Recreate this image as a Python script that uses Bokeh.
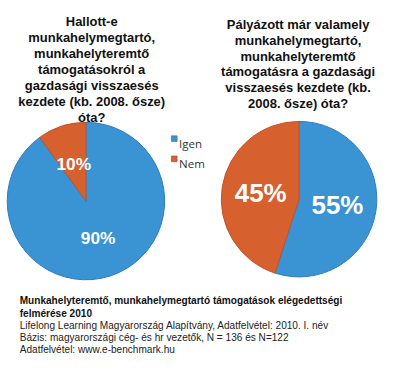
import math
from bokeh.plotting import figure
from bokeh.models import Range1d, ColumnDataSource
from bokeh.core.properties import value
from bokeh.embed import file_html
from bokeh.resources import INLINE

# ---- data ----
categories = ["Igen", "Nem"]
pie1_values = [90, 10]
pie2_values = [55, 45]
colors = ["#3a93d2", "#d6602e"]
outline_colors = ["#2f7dbd", "#c9502a"]

title1 = ["Hallott-e", "munkahelymegtartó,", "munkahelyteremtő",
          "támogatásokról a", "gazdasági visszaesés",
          "kezdete (kb. 2008. ősze)", "óta?"]
title2 = ["Pályázott már valamely", "munkahelymegtartó,", "munkahelyteremtő",
          "támogatásra a gazdasági", "visszaesés kezdete (kb.",
          "2008. ősze) óta?"]
footer_bold = ["Munkahelyteremtő, munkahelymegtartó támogatások elégedettségi",
               "felmérése 2010"]
footer_normal = ["Lifelong Learning Magyarország Alapítvány, Adatfelvétel: 2010. I. név",
                 "Bázis:  magyarországi cég-  és hr vezetők,  N = 136 és N=122",
                 "Adatfelvétel: www.e-benchmark.hu"]

W, H = 400, 372
S = 0.96  # figure is drawn at 96% so that it fits inside the window
p = figure(width=384, height=357, output_backend="svg", toolbar_location=None,
           x_range=Range1d(0, W), y_range=Range1d(0, H),
           min_border=0, outline_line_color=None)
p.axis.visible = False
p.grid.visible = False
p.background_fill_color = "white"
p.border_fill_color = "white"

FONT = value("Liberation Sans")
LFONT = value("Open Sans")


def px(v):
    return f"{v * S:.2f}px"


def draw_pie(cx, cy_img, r, vals, label_size):
    cy = H - cy_img
    total = sum(vals)
    # Nem slice starts at 12 o'clock going counter-clockwise, Igen fills the rest
    nem = vals[1] / total * 2 * math.pi
    top = math.pi / 2
    starts = [top + nem, top]
    ends = [top + 2 * math.pi, top + nem]
    src = ColumnDataSource(dict(x=[cx, cx], y=[cy, cy], s=starts, e=ends,
                                c=colors, lc=outline_colors))
    p.wedge(x="x", y="y", radius=r, start_angle="s", end_angle="e",
            fill_color="c", line_color="lc", line_width=1, source=src)
    lx, ly, lt = [], [], []
    for v, s, e in zip(vals, starts, ends):
        m = (s + e) / 2
        lx.append(cx + 0.5 * r * math.cos(m))
        ly.append(cy + 0.5 * r * math.sin(m))
        lt.append(f"{v}%")
    lsrc = ColumnDataSource(dict(x=lx, y=ly, t=lt))
    p.text(x="x", y="y", text="t", source=lsrc, text_font=FONT,
           text_font_style="bold", text_font_size=px(label_size),
           text_color="white", text_align="center", text_baseline="middle")


draw_pie(89, 209, 82, pie1_values, 18)
draw_pie(311, 207, 81, pie2_values, 27)


def draw_lines(lines, x, y0, dy, size, style, align, color="#111111"):
    src = ColumnDataSource(dict(x=[x] * len(lines),
                                y=[H - (y0 + i * dy) for i in range(len(lines))],
                                t=lines))
    p.text(x="x", y="y", text="t", source=src, text_font=FONT,
           text_font_style=style, text_font_size=px(size), text_color=color,
           text_align=align, text_baseline="alphabetic")


# titles
draw_lines(title1, 95, 22, 16.7, 13.5, "bold", "center")
draw_lines(title2, 310, 25, 16.5, 13.5, "bold", "center")

# legend
leg = ColumnDataSource(dict(x=[181, 181], y=[H - 144, H - 165], c=colors,
                            t=categories, tx=[186, 186], ty=[H - 149, H - 170]))
p.rect(x="x", y="y", width=6, height=6, fill_color="c", line_color="#555555",
       line_width=0.5, source=leg)
p.text(x="tx", y="ty", text="t", source=leg, text_font=LFONT,
       text_font_size=px(12), text_color="#333333", text_baseline="alphabetic")

# footer
draw_lines(footer_bold, 20, 313, 13, 10.5, "bold", "left")
draw_lines(footer_normal, 20, 339, 12.2, 10.5, "normal", "left", color="#222222")

open("out.html", "w").write(file_html(p, INLINE))
